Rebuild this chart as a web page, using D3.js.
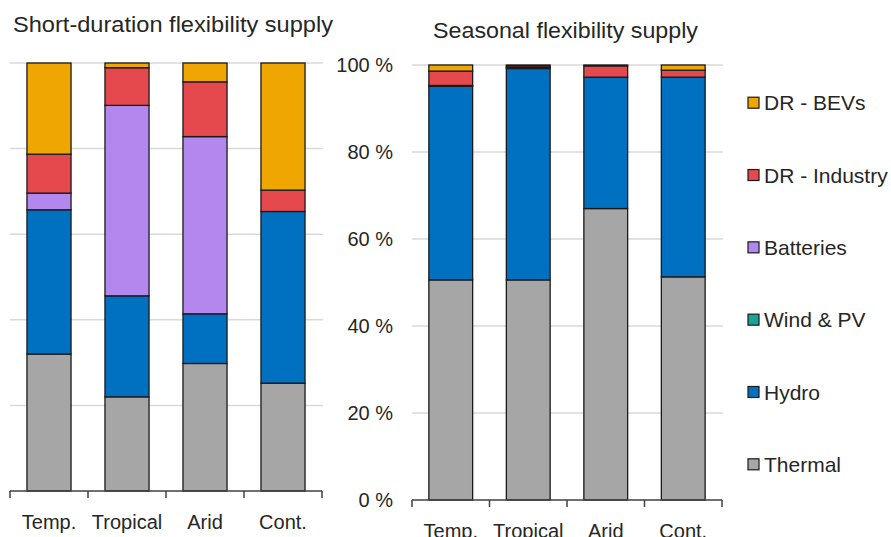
<!DOCTYPE html>
<html><head><meta charset="utf-8">
<script src="https://cdn.jsdelivr.net/npm/d3@7"></script>
<style>
body{margin:0;background:#fff;}
text{font-family:"Liberation Sans",Arial,sans-serif;fill:#262626;}
</style></head>
<body><svg id="c" width="891" height="537"></svg>
<script>
const categories = ["Temp.", "Tropical", "Arid", "Cont."];
const seriesNames = ["Thermal", "Hydro", "Wind & PV", "Batteries", "DR - Industry", "DR - BEVs"];
const seriesColors = ["#a6a6a6", "#0070c0", "#17a398", "#b388ee", "#e5484d", "#efa700"];
// Short-duration (%), per category, in seriesNames order
const shortThermal   = [32.0, 22.0, 29.8, 25.2];
const shortHydro     = [33.7, 23.6, 11.6, 40.1];
const shortWind      = [0, 0, 0, 0];
const shortBatteries = [3.9, 44.5, 41.4, 0];
const shortIndustry  = [9.1, 8.8, 12.8, 5.0];
const shortBEVs      = [21.3, 1.1, 4.4, 29.7];
// Seasonal (%)
const seasThermal   = [50.6, 50.6, 67.0, 51.3];
const seasHydro     = [44.5, 48.6, 30.2, 45.9];
const seasWind      = [0.2, 0.2, 0, 0];
const seasBatteries = [0, 0, 0, 0];
const seasIndustry  = [3.3, 0.4, 2.6, 1.6];
const seasBEVs      = [1.4, 0.2, 0.2, 1.2];
const yTicks = [0, 20, 40, 60, 80, 100];

function rows(arrs){
  return categories.map((c,i)=>{const o={cat:c}; seriesNames.forEach((s,j)=>o[s]=arrs[j][i]); return o;});
}
const shortData = rows([shortThermal, shortHydro, shortWind, shortBatteries, shortIndustry, shortBEVs]);
const seasData  = rows([seasThermal, seasHydro, seasWind, seasBatteries, seasIndustry, seasBEVs]);
const color = d3.scaleOrdinal(seriesNames, seriesColors);
const svg = d3.select("#c");

function panel(data, x0, x1, yTop, yBot, showY){
  const x = d3.scaleBand(categories, [x0, x1]).paddingInner(0.435).paddingOuter(0.2175);
  const y = d3.scaleLinear([0,100], [yBot, yTop]);
  const g = svg.append("g");
  g.selectAll("line.grid").data(yTicks.filter(t=>t>0)).join("line")
    .attr("x1", x0).attr("x2", x1+1).attr("y1", d=>y(d)).attr("y2", d=>y(d))
    .attr("stroke", "#d9d9d9").attr("stroke-width", 1.5);
  const stack = d3.stack().keys(seriesNames)(data);
  g.selectAll("g.s").data(stack).join("g").attr("fill", d=>color(d.key))
    .selectAll("rect").data(d=>d.filter(p=>p[1]-p[0]>0)).join("rect")
    .attr("x", d=>x(d.data.cat)).attr("width", x.bandwidth())
    .attr("y", d=>y(d[1])).attr("height", d=>y(d[0])-y(d[1]))
    .attr("stroke", "#1a1a1a").attr("stroke-width", 1.3);
  const ax = g.append("g").attr("transform", `translate(0,${yBot})`)
    .call(d3.axisBottom(x).tickSize(0).tickPadding(24));
  ax.select(".domain").remove();
  ax.selectAll("text").style("font-size","20px").style("font-family","Liberation Sans, Arial, sans-serif").attr("fill","#262626");
  // axis line and tick marks at band boundaries
  g.append("line").attr("x1", x0).attr("x2", x1).attr("y1", yBot).attr("y2", yBot)
    .attr("stroke", "#404040").attr("stroke-width", 1.5);
  const bounds = categories.map(c=>x(c)-x.step()*x.paddingInner()/2 - (c===categories[0]? x.step()*0 : 0));
  const tickX = d3.range(categories.length+1).map(i=>x0 + i*(x1-x0)/categories.length);
  g.selectAll("line.tk").data(tickX).join("line")
    .attr("x1", d=>d).attr("x2", d=>d).attr("y1", yBot).attr("y2", yBot+7)
    .attr("stroke", "#404040").attr("stroke-width", 1.5);
  if(showY){
    g.selectAll("text.yt").data(yTicks).join("text")
      .attr("x", x0-19).attr("y", d=>y(d)).attr("dy","0.35em")
      .attr("text-anchor","end").style("font-size","20px").text(d=>d+" %");
  }
}
panel(shortData, 10, 322, 63, 491, false);
panel(seasData, 412, 722, 65, 500, true);

svg.append("text").attr("x", 13).attr("y", 31.5).style("font-size","22px")
  .attr("textLength", 320).attr("lengthAdjust","spacingAndGlyphs").text("Short-duration flexibility supply");
svg.append("text").attr("x", 433).attr("y", 38).style("font-size","22px")
  .attr("textLength", 265).attr("lengthAdjust","spacingAndGlyphs").text("Seasonal flexibility supply");

const legendNames = seriesNames.slice().reverse();
const ly = d3.scalePoint(legendNames, [102.7, 464.3]);
const lg = svg.append("g").selectAll("g").data(legendNames).join("g")
  .attr("transform", d=>`translate(748,${ly(d)})`);
lg.append("rect").attr("x",0).attr("y",-5.5).attr("width",11).attr("height",11)
  .attr("fill", d=>color(d)).attr("stroke","#1a1a1a").attr("stroke-width",1.2);
lg.append("text").attr("x",16).attr("y",0).attr("dy","0.36em").style("font-size","21px").text(d=>d);
</script></body></html>
